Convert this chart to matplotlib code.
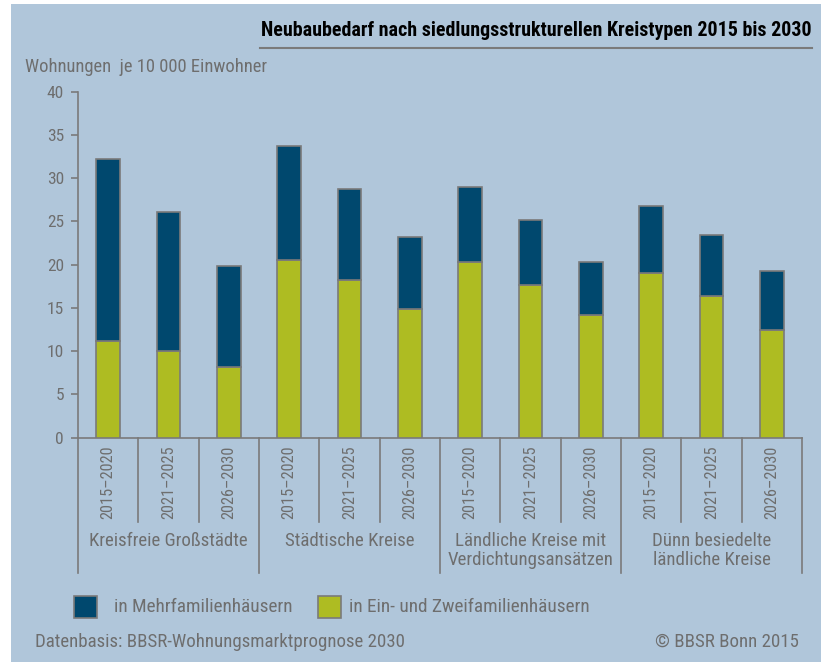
import matplotlib
matplotlib.use("Agg")
import matplotlib.pyplot as plt
from matplotlib import font_manager
from matplotlib.patches import Rectangle
from matplotlib.lines import Line2D
import numpy as np

# Data
GROUPS = ["Kreisfreie Großstädte", "Städtische Kreise",
          "Ländliche Kreise mit\nVerdichtungsansätzen", "Dünn besiedelte\nländliche Kreise"]
PERIODS = ["2015–2020", "2021–2025", "2026–2030"]
ein_zwei = [11.2, 10.0, 8.2, 20.5, 18.2, 14.9, 20.3, 17.7, 14.2, 19.0, 16.35, 12.5]
gesamt = [32.2, 26.1, 19.9, 33.7, 28.75, 23.2, 29.0, 25.2, 20.3, 26.8, 23.45, 19.25]
mehr = [g - e for g, e in zip(gesamt, ein_zwei)]
yticks = [0, 5, 10, 15, 20, 25, 30, 35, 40]

BG = "#b0c6da"
DARK = "#00486e"
GREEN = "#aebc22"
EDGE = "#7a7a7a"
TXT = "#6e6e6e"

names = {f.name for f in font_manager.fontManager.ttflist}
pref = ["Roboto Condensed", "Liberation Sans Narrow", "Roboto"]
fam = [p for p in pref if p in names][:1]
plt.rcParams['font.family'] = fam + ["DejaVu Sans"]

W, H = 821, 662
fig = plt.figure(figsize=(W / 100, H / 100), dpi=100)
fig.patch.set_facecolor(BG)
# white border strips on the left and top
fig.patches.append(Rectangle((0, 0), 11 / W, 1, transform=fig.transFigure,
                             facecolor="white", edgecolor="none"))
fig.patches.append(Rectangle((0, 1 - 4 / H), 1, 4 / H, transform=fig.transFigure,
                             facecolor="white", edgecolor="none"))

def fx(px):
    return px / W

def fy(py):
    return 1 - py / H

ax = fig.add_axes([fx(78), fy(437.7), fx(802) - fx(78), fy(91.7) - fy(437.7)])
ax.set_facecolor("none")

n = len(gesamt)
x = np.arange(n) + 0.5
ax.bar(x, ein_zwei, width=0.39, color=GREEN, edgecolor=EDGE, linewidth=1.2, zorder=3)
ax.bar(x, mehr, bottom=ein_zwei, width=0.39, color=DARK, edgecolor=EDGE, linewidth=1.2, zorder=3)

ax.set_xlim(0, n)
ax.set_ylim(0, 40)
ax.set_yticks(yticks)
ax.set_xticks([])
for s in ["top", "right"]:
    ax.spines[s].set_visible(False)
for s in ["left", "bottom"]:
    ax.spines[s].set_color(EDGE)
    ax.spines[s].set_linewidth(1.2)
ax.tick_params(axis="y", colors=EDGE, labelcolor=TXT, labelsize=12.5, length=5, width=1.2, pad=5)

# separators and category labels below the axis
trans = ax.get_xaxis_transform()
for i in range(n + 1):
    long = i % 3 == 0
    y_end = -(573 - 437.7) / 346 if long else -(521.7 - 437.7) / 346
    ax.add_line(Line2D([i, i], [0, y_end], transform=trans, color=EDGE, lw=1.2, clip_on=False))
for i in range(n):
    ax.text(i + 0.5, -8 / 346, PERIODS[i % 3], transform=trans, rotation=90,
            ha="center", va="top", color=TXT, fontsize=11.7)
for g, name in enumerate(GROUPS):
    ax.text(g * 3 + 1.5, -(532 - 437.7) / 346, name, transform=trans, ha="center", va="top",
            color=TXT, fontsize=13.6, linespacing=1.1)

# title
fig.text(fx(812), fy(30), "Neubaubedarf nach siedlungsstrukturellen Kreistypen 2015 bis 2030",
         ha="right", va="center", fontsize=14.4, fontweight="bold", color="black")
fig.add_artist(Line2D([fx(260), fx(812)], [fy(48), fy(48)], color=EDGE, lw=1.5))

fig.text(fx(25), fy(67), "Wohnungen  je 10 000 Einwohner", ha="left", va="center",
         fontsize=13.3, color=TXT)

# legend
for x0, tx, col, lab in [(74, 114, DARK, "in Mehrfamilienhäusern"),
                         (318, 349, GREEN, "in Ein- und Zweifamilienhäusern")]:
    fig.patches.append(Rectangle((fx(x0), fy(618)), 23 / W, 22 / H, transform=fig.transFigure,
                                 facecolor=col, edgecolor=EDGE, lw=1.2))
    fig.text(fx(tx), fy(607), lab, ha="left", va="center", fontsize=13.9, color=TXT)

fig.text(fx(35), fy(642), "Datenbasis: BBSR-Wohnungsmarktprognose 2030", ha="left",
         va="center", fontsize=13.6, color=TXT)
fig.text(fx(799), fy(642), "© BBSR Bonn 2015", ha="right", va="center", fontsize=13.6, color=TXT)

fig.savefig("out.png", dpi=100, facecolor=fig.get_facecolor())
